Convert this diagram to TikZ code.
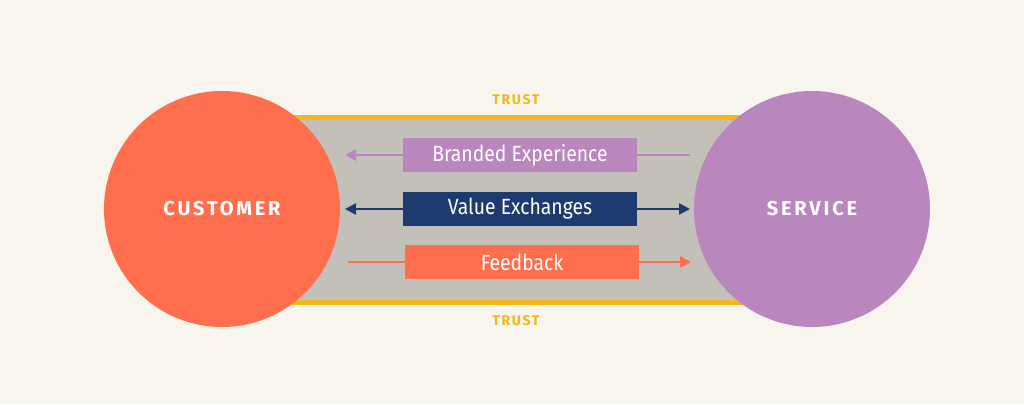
\documentclass[tikz,border=0pt]{standalone}
\usepackage{fontspec}
\setmainfont{Fira Sans}
\usetikzlibrary{positioning, arrows.meta}
\definecolor{cream}{HTML}{F8F5EE}
\definecolor{coral}{HTML}{FF6F4E}
\definecolor{lilac}{HTML}{B986BE}
\definecolor{navy}{HTML}{1D3B6E}
\definecolor{band}{HTML}{C2C0B8}
\definecolor{gold}{HTML}{F0B81C}
\tikzset{
  hub/.style={circle, minimum size=236pt, inner sep=0pt, text=white,
    font=\fontsize{20}{22}\selectfont\bfseries\addfontfeatures{LetterSpace=14}},
  flow/.style={minimum width=234pt, minimum height=34pt, inner sep=0pt, text=white,
    font=\fontsize{22}{24}\selectfont\addfontfeatures{FakeStretch=0.88}},
  tip/.style={-{Triangle[length=11pt,width=11pt]}, line width=2.5pt},
  trust/.style={text=gold, font=\fontsize{14}{16}\selectfont\bfseries\addfontfeatures{LetterSpace=12}}
}
\begin{document}
\begin{tikzpicture}[x=1pt, y=-1pt]
  \fill[cream] (0,0) rectangle (1024,404);
  \useasboundingbox (0,0) rectangle (1024,404);
  % band of trust
  \fill[band] (280,117) rectangle (745,302);
  \draw[gold, line width=5pt] (280,117) -- (745,117);
  \draw[gold, line width=5pt] (280,302) -- (745,302);
  \node[trust] (T1) at (516,100) {TRUST};
  \node[trust] (T2) at (516,321) {TRUST};

  % flows
  \coordinate (bR) at (690,155);
  \coordinate (bL) at (345,155);
  \coordinate (vR) at (690,209);
  \coordinate (vL) at (345,209);
  \coordinate (fR) at (691,262);
  \coordinate (fL) at (348,262);
  \draw[tip, lilac] (bR) -- (bL);
  \draw[tip, navy, {Triangle[length=11pt,width=11pt]}-{Triangle[length=11pt,width=11pt]}] (vL) -- (vR);
  \draw[tip, coral] (fL) -- (fR);
  \node[flow, fill=lilac] (brand) at (520,155) {Branded Experience};
  \node[flow, fill=navy] (value) at (520,209) {Value Exchanges};
  \node[flow, fill=coral] (feed) at (522,262) {Feedback};

  % parties
  \node[hub, fill=coral] (cust) at (222,209) {CUSTOMER};
  \node[hub, fill=lilac] (serv) at (812,209) {SERVICE};
\end{tikzpicture}
\end{document}
